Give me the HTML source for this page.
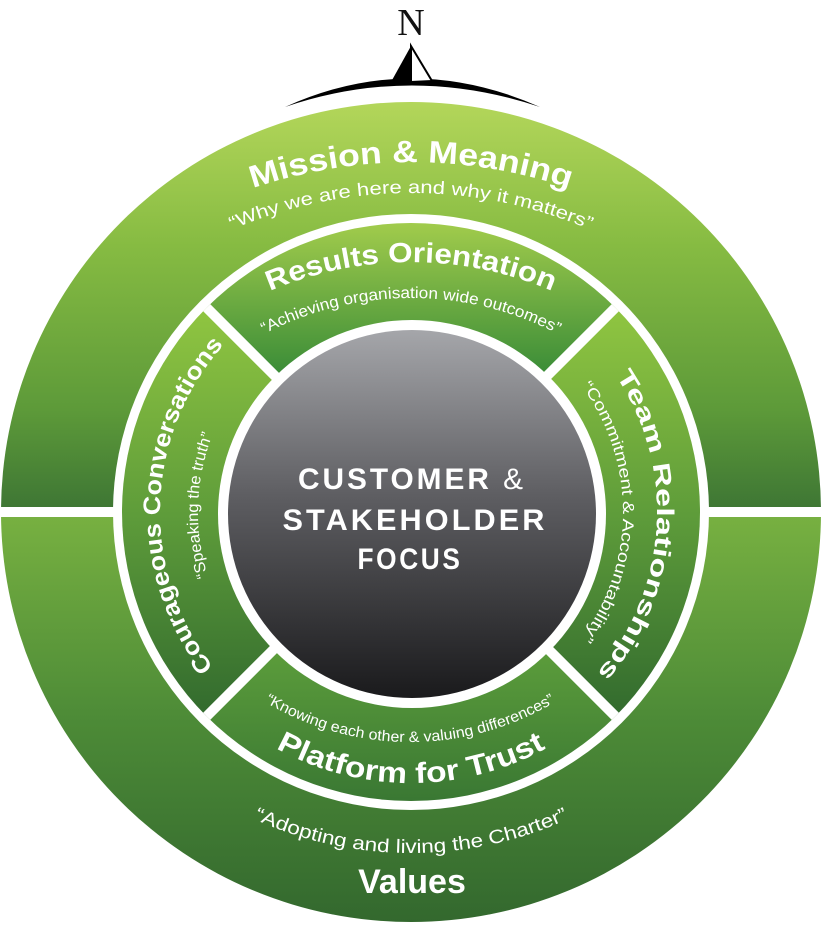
<!DOCTYPE html>
<html><head><meta charset="utf-8"><style>
html,body{margin:0;padding:0;background:#fff;width:822px;height:927px;overflow:hidden;}
svg{display:block;}
text{font-family:"Liberation Sans",sans-serif;fill:#fff;}
.b{font-weight:bold;}
</style></head><body>
<svg width="822" height="927" viewBox="0 0 822 927" xmlns="http://www.w3.org/2000/svg">
<defs>
<linearGradient id="gTop" x1="0" y1="103" x2="0" y2="512" gradientUnits="userSpaceOnUse">
<stop offset="0" stop-color="#b3d65a"/><stop offset="0.35" stop-color="#86bb42"/><stop offset="0.75" stop-color="#5d9a39"/><stop offset="1" stop-color="#3d7534"/></linearGradient>
<linearGradient id="gBot" x1="0" y1="512" x2="0" y2="923" gradientUnits="userSpaceOnUse">
<stop offset="0" stop-color="#78b141"/><stop offset="0.5" stop-color="#4d8b37"/><stop offset="1" stop-color="#33682e"/></linearGradient>
<linearGradient id="sTop" x1="0" y1="222" x2="0" y2="370" gradientUnits="userSpaceOnUse">
<stop offset="0" stop-color="#a2cc4c"/><stop offset="1" stop-color="#3d8e38"/></linearGradient>
<linearGradient id="sSide" x1="0" y1="300" x2="0" y2="730" gradientUnits="userSpaceOnUse">
<stop offset="0" stop-color="#92c741"/><stop offset="0.5" stop-color="#5e9c3a"/><stop offset="1" stop-color="#2f672d"/></linearGradient>
<linearGradient id="sBot" x1="0" y1="650" x2="0" y2="800" gradientUnits="userSpaceOnUse">
<stop offset="0" stop-color="#5c9d3b"/><stop offset="1" stop-color="#3a7833"/></linearGradient>
<linearGradient id="core" x1="0" y1="330" x2="0" y2="698" gradientUnits="userSpaceOnUse">
<stop offset="0" stop-color="#a5a6aa"/><stop offset="0.45" stop-color="#5e5e62"/><stop offset="1" stop-color="#1a1a1c"/></linearGradient>
<clipPath id="seg"><circle cx="411" cy="512" r="289"/></clipPath>
<path id="pMission" d="M -82,655 A 493 493 0 0 1 904,655"/>
<path id="pWhy" d="M -45,649 A 456 456 0 0 1 867,649"/>
<path id="pRes" d="M 52,621 A 359 359 0 0 1 770,621"/>
<path id="pAch" d="M 93,616 A 318 318 0 0 1 729,616"/>
<path id="pKnow" d="M 127,459 A 283 283 0 0 0 693,459"/>
<path id="pPlat" d="M 131,503 A 280 280 0 0 0 691,503"/>
<path id="pAdopt" d="M 31,473 A 380 380 0 0 0 791,473"/>
<path id="pCour" d="M 411,763 A 251 251 0 0 1 411,261"/>
<path id="pSpeak" d="M 411,725 A 213 213 0 0 1 411,299"/>
<path id="pTeam" d="M 411,266 A 246 246 0 0 1 411,758"/>
<path id="pComm" d="M 411,300 A 212 212 0 0 1 411,724"/>
</defs>

<!-- compass -->
<text x="411" y="35" text-anchor="middle" style="font-family:'Liberation Serif',serif;font-size:38px;fill:#111;">N</text>
<path d="M285,107 Q411,50 540,107 Q411,64 285,107 Z" fill="#000"/>
<path d="M411,46 L391,82 L411,82 Z" fill="#000"/>
<path d="M411,46 L432,81 L411,82 Z" fill="#fff" stroke="#000" stroke-width="2"/>

<!-- outer ring -->
<path d="M1,512 A410 410 0 0 1 821,512 Z" fill="url(#gTop)"/>
<path d="M1,512 A410 410 0 0 0 821,512 Z" fill="url(#gBot)"/>
<rect x="0" y="507" width="822" height="10" fill="#fff"/>
<circle cx="411" cy="512" r="298" fill="#fff"/>

<!-- segments -->
<g clip-path="url(#seg)">
<polygon points="411,512 0,101 0,0 822,0 822,101" fill="url(#sTop)"/>
<polygon points="411,512 0,101 0,923" fill="url(#sSide)"/>
<polygon points="411,512 822,101 822,923" fill="url(#sSide)"/>
<polygon points="411,512 0,923 822,923" fill="url(#sBot)"/>
<line x1="111" y1="212" x2="711" y2="812" stroke="#fff" stroke-width="10"/>
<line x1="711" y1="212" x2="111" y2="812" stroke="#fff" stroke-width="10"/>
</g>
<circle cx="412" cy="514" r="194" fill="#fff"/>
<circle cx="412" cy="514" r="184" fill="url(#core)"/>

<!-- core text -->
<text class="b" x="412" y="489" text-anchor="middle" font-size="30" letter-spacing="3" textLength="228" lengthAdjust="spacingAndGlyphs">CUSTOMER <tspan font-weight="normal">&amp;</tspan></text>
<text class="b" x="415" y="530" text-anchor="middle" font-size="30" letter-spacing="3" textLength="265" lengthAdjust="spacingAndGlyphs">STAKEHOLDER</text>
<text class="b" x="410" y="569" text-anchor="middle" font-size="30" letter-spacing="3" textLength="105" lengthAdjust="spacingAndGlyphs">FOCUS</text>

<!-- arc texts -->
<text class="b" font-size="31"><textPath href="#pMission" startOffset="50%" text-anchor="middle" textLength="322" lengthAdjust="spacingAndGlyphs">Mission &amp; Meaning</textPath></text>
<text font-size="18"><textPath href="#pWhy" startOffset="50%" text-anchor="middle" textLength="368" lengthAdjust="spacingAndGlyphs">“Why we are here and why it matters”</textPath></text>
<text class="b" font-size="28"><textPath href="#pRes" startOffset="50%" text-anchor="middle" textLength="290" lengthAdjust="spacingAndGlyphs">Results Orientation</textPath></text>
<text font-size="16"><textPath href="#pAch" startOffset="50%" text-anchor="middle" textLength="305" lengthAdjust="spacingAndGlyphs">“Achieving organisation wide outcomes”</textPath></text>
<text font-size="15"><textPath href="#pKnow" startOffset="50%" text-anchor="middle" textLength="305" lengthAdjust="spacingAndGlyphs">“Knowing each other &amp; valuing differences”</textPath></text>
<text class="b" font-size="29"><textPath href="#pPlat" startOffset="50%" text-anchor="middle" textLength="282" lengthAdjust="spacingAndGlyphs">Platform for Trust</textPath></text>
<text font-size="19"><textPath href="#pAdopt" startOffset="50%" text-anchor="middle" textLength="325" lengthAdjust="spacingAndGlyphs">“Adopting and living the Charter”</textPath></text>
<text class="b" x="412" y="893" text-anchor="middle" font-size="34">Values</text>

<text class="b" font-size="24"><textPath href="#pCour" startOffset="51%" text-anchor="middle" textLength="350" lengthAdjust="spacingAndGlyphs">Courageous Conversations</textPath></text>
<text font-size="16"><textPath href="#pSpeak" startOffset="51%" text-anchor="middle" textLength="145" lengthAdjust="spacingAndGlyphs">“Speaking the truth”</textPath></text>
<text class="b" font-size="24"><textPath href="#pTeam" startOffset="52%" text-anchor="middle" textLength="320" lengthAdjust="spacingAndGlyphs">Team Relationships</textPath></text>
<text font-size="16"><textPath href="#pComm" startOffset="50%" text-anchor="middle" textLength="270" lengthAdjust="spacingAndGlyphs">“Commitment &amp; Accountability”</textPath></text>
</svg>
</body></html>
